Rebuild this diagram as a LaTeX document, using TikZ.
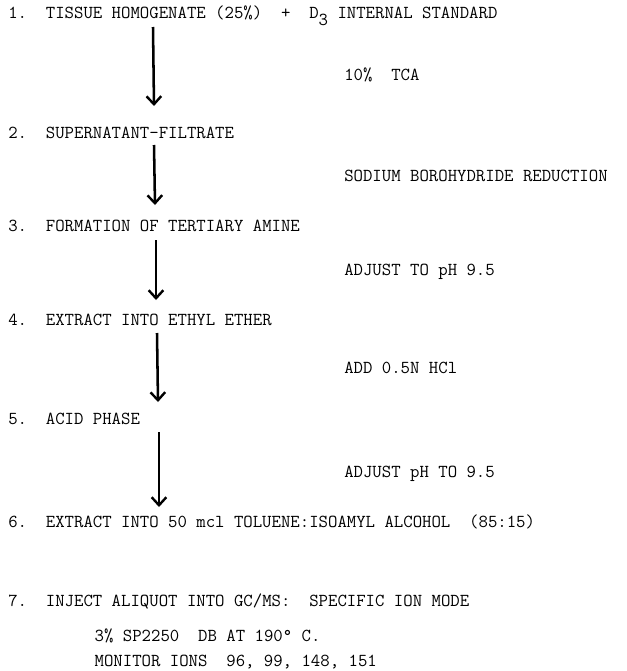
\documentclass[tikz,border=0pt]{standalone}
\usetikzlibrary{arrows.meta}
\begin{document}
\begin{tikzpicture}[x=0.75pt,y=-0.75pt,
  txt/.style={anchor=base west,inner sep=0pt,font=\fontsize{13.7}{16}\selectfont\ttfamily},
  flow/.style={line width=1.9pt,-{Straight Barb[length=6pt,width=11pt,line width=1.8pt]}}]
\useasboundingbox (0,0) rectangle (626,671);
% main steps
\node[txt] (s1) at (8,18) {1.\ \ TISSUE HOMOGENATE (25\%)\ \ +\ \ D\raisebox{-0.4em}{3} INTERNAL STANDARD};
\node[txt] (s2) at (8,138) {2.\ \ SUPERNATANT-FILTRATE};
\node[txt] (s3) at (8,231) {3.\ \ FORMATION OF TERTIARY AMINE};
\node[txt] (s4) at (8,325) {4.\ \ EXTRACT INTO ETHYL ETHER};
\node[txt] (s5) at (8,424) {5.\ \ ACID PHASE};
\node[txt] (s6) at (8,527) {6.\ \ EXTRACT INTO 50 mcl TOLUENE:ISOAMYL ALCOHOL\ \ (85:15)};
\node[txt] (s7) at (8,606) {7.\ \ INJECT ALIQUOT INTO GC/MS:\ \ SPECIFIC ION MODE};
\node[txt] (s7a) at (94.4,641) {3\% SP2250\ \ DB AT 190° C.};
\node[txt] (s7b) at (94.4,666) {MONITOR IONS\ \ 96, 99, 148, 151};
% reagents
\node[txt] (r1) at (344,80) {10\%\ \ TCA};
\node[txt] (r2) at (344,181) {SODIUM BOROHYDRIDE REDUCTION};
\node[txt] (r3) at (344,275) {ADJUST TO pH 9.5};
\node[txt] (r4) at (344,373) {ADD 0.5N HCl};
\node[txt] (r5) at (344,477) {ADJUST pH TO 9.5};
% arrow end points
\coordinate (a1s) at (153,27);  \coordinate (a1e) at (154,106);
\coordinate (a2s) at (154,145); \coordinate (a2e) at (155,205);
\coordinate (a3s) at (156,240); \coordinate (a3e) at (156,300);
\coordinate (a4s) at (157,333); \coordinate (a4e) at (158,402);
\coordinate (a5s) at (159,432); \coordinate (a5e) at (159,507);
\draw[flow] (a1s) -- (a1e);
\draw[flow] (a2s) -- (a2e);
\draw[flow] (a3s) -- (a3e);
\draw[flow] (a4s) -- (a4e);
\draw[flow] (a5s) -- (a5e);
\end{tikzpicture}
\end{document}
